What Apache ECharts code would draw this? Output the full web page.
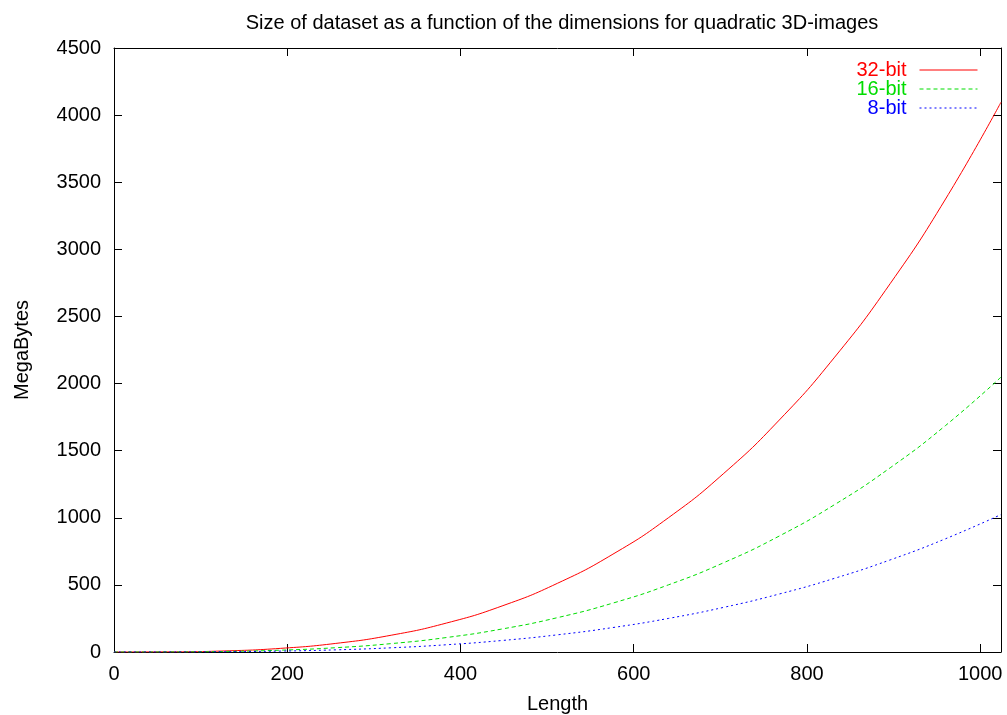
<!DOCTYPE html>
<html>
<head>
<meta charset="utf-8">
<script src="https://cdn.jsdelivr.net/npm/echarts@6/dist/echarts.min.js"></script>
<style>
html, body { margin: 0; padding: 0; background: #fff; }
#main { width: 1007px; height: 715px; }
</style>
</head>
<body>
<div id="main"></div>
<script>
// ***** data *****
var lengths = [0, 64, 128, 192, 256, 320, 384, 448, 512, 576, 640, 704, 768, 832, 896, 960, 1024];
var mb32 = [0, 1, 8, 27, 64, 125, 216, 343, 512, 729, 1000, 1331, 1728, 2197, 2744, 3375, 4096];
var mb16 = [0, 0.5, 4, 13.5, 32, 62.5, 108, 171.5, 256, 364.5, 500, 665.5, 864, 1098.5, 1372, 1687.5, 2048];
var mb8 = [0, 0.25, 2, 6.75, 16, 31.25, 54, 85.75, 128, 182.25, 250, 332.75, 432, 549.25, 686, 843.75, 1024];
var seriesNames = ['32-bit', '16-bit', '8-bit'];
var seriesColors = ['#ff0000', '#00dd00', '#0000ff'];

function pairs(ys) {
    var out = [];
    for (var i = 0; i < lengths.length; i++) {
        out.push([lengths[i], ys[i]]);
    }
    return out;
}

var font = 'Liberation Sans, Arial, sans-serif';
var plain = function (v) { return String(v); };

var chart = echarts.init(document.getElementById('main'));

function frameAxis(extra) {
    var a = {
        type: 'value',
        axisLine: { show: true, onZero: false, lineStyle: { color: '#000', width: 1 } },
        axisTick: { show: true, inside: true, length: 8, lineStyle: { color: '#000', width: 1 } },
        splitLine: { show: false }
    };
    for (var k in extra) a[k] = extra[k];
    return a;
}

var options = {
    backgroundColor: '#fff',
    animation: false,
    title: {
        text: 'Size of dataset as a function of the dimensions for quadratic 3D-images',
        left: 557,
        textAlign: 'center',
        top: 8,
        textStyle: { fontFamily: font, fontSize: 20, fontWeight: 'normal', color: '#000' }
    },
    legend: {
        orient: 'vertical',
        right: 24,
        top: 55,
        align: 'right',
        itemGap: -1,
        itemWidth: 58,
        itemHeight: 10,
        itemStyle: { opacity: 0 },
        lineStyle: { width: 1 },
        data: seriesNames.map(function (n, i) {
            return { name: n, textStyle: { color: seriesColors[i] } };
        }),
        textStyle: { fontFamily: font, fontSize: 20, lineHeight: 19, padding: [0, 8, 0, 0] }
    },
    grid: { left: 114, top: 48, right: 6, bottom: 63, outerBoundsMode: 'none' },
    xAxis: [frameAxis({
        min: 0,
        max: 1024,
        interval: 200,
        name: 'Length',
        nameLocation: 'middle',
        nameGap: 42,
        nameTextStyle: { fontFamily: font, fontSize: 20, color: '#000' },
        axisLabel: { fontFamily: font, fontSize: 20, color: '#000', margin: 12, showMaxLabel: false, formatter: plain }
    }), frameAxis({
        position: 'top',
        min: 0,
        max: 1024,
        interval: 200,
        axisLabel: { show: false }
    })],
    yAxis: [frameAxis({
        min: 0,
        max: 4500,
        interval: 500,
        name: 'MegaBytes',
        nameLocation: 'middle',
        nameGap: 82,
        nameTextStyle: { fontFamily: font, fontSize: 20, color: '#000' },
        axisLabel: { fontFamily: font, fontSize: 20, color: '#000', margin: 13, formatter: plain }
    }), frameAxis({
        position: 'right',
        min: 0,
        max: 4500,
        interval: 500,
        axisLabel: { show: false }
    })],
    series: [{
        name: seriesNames[0],
        type: 'line',
        smooth: true,
        symbol: 'none',
        data: pairs(mb32),
        lineStyle: { color: seriesColors[0], width: 1, type: 'solid' },
        itemStyle: { color: seriesColors[0] }
    }, {
        name: seriesNames[1],
        type: 'line',
        smooth: true,
        symbol: 'none',
        data: pairs(mb16),
        lineStyle: { color: seriesColors[1], width: 1, type: [4, 3] },
        itemStyle: { color: seriesColors[1] }
    }, {
        name: seriesNames[2],
        type: 'line',
        smooth: true,
        symbol: 'none',
        data: pairs(mb8),
        lineStyle: { color: seriesColors[2], width: 1, type: [2, 3] },
        itemStyle: { color: seriesColors[2] }
    }]
};

chart.setOption(options);
</script>
</body>
</html>
